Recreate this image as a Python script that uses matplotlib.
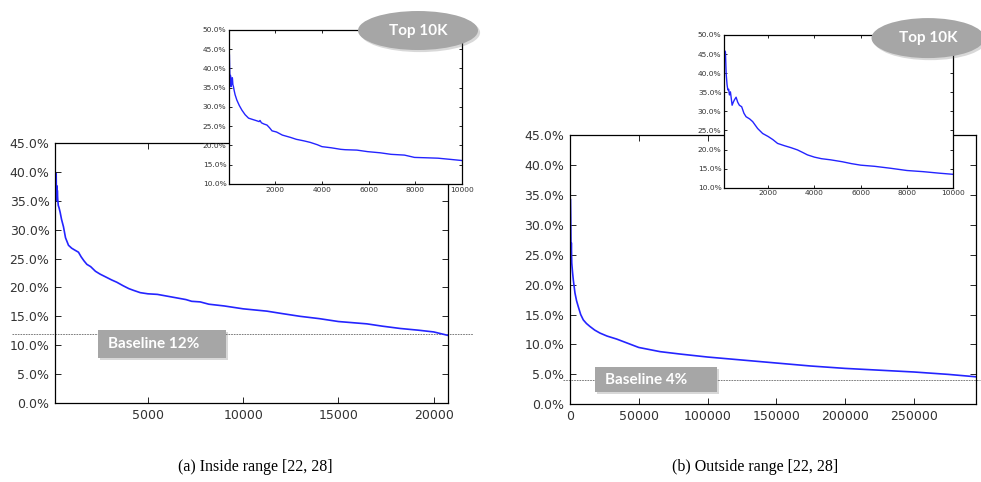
import matplotlib
matplotlib.use("Agg")
import matplotlib.pyplot as plt
from matplotlib.patches import Ellipse, FancyBboxPatch
from matplotlib.ticker import FuncFormatter, MultipleLocator
import matplotlib.patheffects as pe
import matplotlib.transforms as mtransforms

# ---------------- data (precision in %) ----------------
# (a) inside range [22, 28]
in_x = [130, 150, 165, 180, 190, 205, 220, 235, 250, 270, 300, 340, 399, 470, 573,
        680, 836, 1000, 1150, 1360, 1500, 1650, 1800, 2000, 2250, 2497, 2800, 3100,
        3373, 3700, 4000, 4245, 4600, 5000, 5500, 6000, 6500, 7000, 7300, 7745, 8200,
        9000, 10000, 11244, 12000, 12991, 14000, 15000, 16491, 17300, 18239, 19200,
        20000, 20750]
in_y = [38.5, 36.0, 38.0, 35.2, 39.7, 35.5, 37.6, 35.0, 36.8, 35.3, 34.2, 33.8, 33.0,
        31.8, 30.5, 28.6, 27.3, 26.8, 26.5, 26.1, 25.3, 24.6, 24.0, 23.6, 22.8, 22.3,
        21.8, 21.3, 20.9, 20.3, 19.8, 19.5, 19.1, 18.9, 18.8, 18.5, 18.2, 17.9, 17.6,
        17.5, 17.1, 16.8, 16.3, 15.9, 15.5, 15.0, 14.6, 14.1, 13.7, 13.3, 12.9, 12.6,
        12.3, 11.7]
in_top_x = [20, 26, 40, 55, 70, 80, 99, 115, 130, 145, 157, 175, 200, 230, 270, 345,
            450, 561, 700, 848, 1000, 1209, 1300, 1340, 1400, 1500, 1641, 1750, 1857,
            2050, 2300, 2648, 2900, 3225, 3500, 3800, 4000, 4400, 4808, 5000, 5500,
            5962, 6500, 6968, 7544, 7975, 8500, 8983, 9500, 10000]
in_top_y = [44.0, 43.5, 39.5, 36.5, 38.2, 37.9, 35.3, 36.8, 36.0, 37.6, 37.4, 35.8,
            35.3, 34.3, 33.2, 31.8, 30.4, 29.2, 28.0, 27.1, 26.8, 26.4, 26.2, 26.5,
            25.9, 25.6, 25.3, 24.6, 23.8, 23.5, 22.7, 22.1, 21.6, 21.2, 20.8, 20.2,
            19.7, 19.4, 19.0, 18.9, 18.8, 18.4, 18.1, 17.7, 17.5, 16.9, 16.8, 16.7,
            16.4, 16.1]
in_baseline = 12

# (b) outside range [22, 28]
out_x = [400, 550, 650, 800, 1000, 1300, 1900, 2426, 3639, 4800, 6065, 7800, 9706,
         12000, 14556, 18000, 21834, 27000, 33988, 42000, 50000, 65502, 80000, 100000,
         125000, 150000, 175000, 200000, 225000, 250000, 275000, 295000]
out_y = [34.2, 31.5, 29.0, 25.0, 27.0, 23.6, 22.0, 20.8, 18.6, 17.3, 16.3, 15.0, 14.1,
         13.5, 13.0, 12.4, 11.9, 11.4, 10.9, 10.2, 9.5, 8.8, 8.4, 7.9, 7.4, 6.9, 6.4,
         6.0, 5.7, 5.4, 5.0, 4.6]
out_top_x = [100, 150, 181, 220, 254, 290, 323, 366, 400, 439, 490, 538, 611, 680, 753,
             853, 950, 1041, 1200, 1329, 1543, 1759, 2000, 2200, 2404, 2700, 2976, 3263,
             3500, 3694, 4000, 4300, 4696, 5200, 5600, 6000, 6600, 7276, 8000, 8700,
             9400, 10000]
out_top_y = [46.0, 45.6, 39.9, 37.0, 35.6, 35.8, 34.3, 35.1, 33.5, 31.6, 32.4, 33.0,
             33.7, 32.4, 31.6, 31.2, 29.5, 28.6, 28.0, 27.3, 25.5, 24.2, 23.4, 22.6,
             21.6, 21.0, 20.5, 19.9, 19.2, 18.6, 18.0, 17.6, 17.3, 16.8, 16.3, 15.9,
             15.6, 15.1, 14.5, 14.2, 13.8, 13.5]
out_baseline = 4

main_xticks_a = [5000, 10000, 15000, 20000]
main_xticks_b = [0, 50000, 100000, 150000, 200000, 250000]
inset_xticks = [2000, 4000, 6000, 8000, 10000]
captions = ["(a) Inside range [22, 28]", "(b) Outside range [22, 28]"]

# ---------------- style ----------------
LINE = "#2424ff"
TICKC = "#333333"
BOXC = "#a6a6a6"
pct = FuncFormatter(lambda v, p: f"{v:.1f}%")

fig = plt.figure(figsize=(9.81, 4.82), dpi=100)


def style_axes(ax, fs, ticklen, pad):
    ax.tick_params(direction="in", top=True, right=True, labelsize=fs,
                   labelcolor=TICKC, length=ticklen, width=0.6, pad=pad)
    for s in ax.spines.values():
        s.set_linewidth(0.9)
        s.set_color("black")
    ax.yaxis.set_major_formatter(pct)


def shadow():
    return [pe.SimplePatchShadow(offset=(1.5, -1.5), alpha=0.25, shadow_rgbFace="0.4"),
            pe.Normal()]


def main_panel(rect, x, y, xlim, xticks, baseline, line_span, box, caption_x, caption):
    ax = fig.add_axes(rect)
    ax.plot(x, y, color=LINE, lw=1.2)
    ax.set_xlim(*xlim)
    ax.set_ylim(0, 45)
    ax.set_xticks(xticks)
    ax.yaxis.set_major_locator(MultipleLocator(5))
    style_axes(ax, 9, 4, 4)
    trans = mtransforms.blended_transform_factory(ax.transAxes, ax.transData)
    ax.plot(line_span, [baseline, baseline], transform=trans, color="#666666",
            lw=0.6, ls=(0, (2, 1.2)), clip_on=False, zorder=1)
    bx0, by0, bx1, by1, tx, ty = box
    patch = FancyBboxPatch((bx0, by0), bx1 - bx0, by1 - by0, boxstyle="square,pad=0",
                           transform=ax.transAxes, facecolor=BOXC, edgecolor="none",
                           clip_on=False, zorder=5)
    patch.set_path_effects(shadow())
    ax.add_patch(patch)
    ax.text(tx, ty, f"Baseline {baseline}%", transform=ax.transAxes, ha="left",
            va="center", color="white", fontsize=11, fontweight="bold",
            family="Lato", zorder=6)
    fig.text(caption_x, 0.031, caption, ha="center", va="center",
             family="Liberation Serif", fontsize=11.5)
    return ax


def inset_panel(rect, x, y, xlim, ell):
    ax = fig.add_axes(rect)
    ax.set_facecolor("white")
    ax.plot(x, y, color=LINE, lw=1.0)
    ax.set_xlim(*xlim)
    ax.set_ylim(10, 50)
    ax.set_xticks(inset_xticks)
    ax.yaxis.set_major_locator(MultipleLocator(5))
    style_axes(ax, 5.4, 2.5, 2)
    cx, cy, w, h = ell
    e = Ellipse((cx, cy), w, h, transform=fig.transFigure, facecolor=BOXC,
                edgecolor="none", zorder=10)
    e.set_path_effects(shadow())
    fig.patches.append(e)
    fig.text(cx, cy, "Top 10K", ha="center", va="center", color="white",
             fontsize=11, fontweight="bold", family="Lato", zorder=11)
    return ax


main_panel([0.0561, 0.1639, 0.4006, 0.5394], in_x, in_y, (130, 20750), main_xticks_a,
           in_baseline, [-0.109, 1.064], (0.109, 0.173, 0.435, 0.281, 0.135, 0.227),
           0.26, captions[0])
inset_panel([0.2337, 0.6183, 0.2369, 0.3195], in_top_x, in_top_y, (20, 10000),
            (0.4261, 0.9367, 120 / 981, 39 / 482))

main_panel([0.5810, 0.1612, 0.4136, 0.5587], out_x, out_y, (0, 295000), main_xticks_b,
           out_baseline, [-0.017, 1.011], (0.0616, 0.0457, 0.362, 0.1385, 0.0863, 0.092),
           0.77, captions[1])
inset_panel([0.7383, 0.6106, 0.2334, 0.3168], out_top_x, out_top_y, (100, 10000),
            (0.946, 0.921, 113 / 981, 40 / 482))

fig.savefig("out.png", dpi=100, facecolor="white")
